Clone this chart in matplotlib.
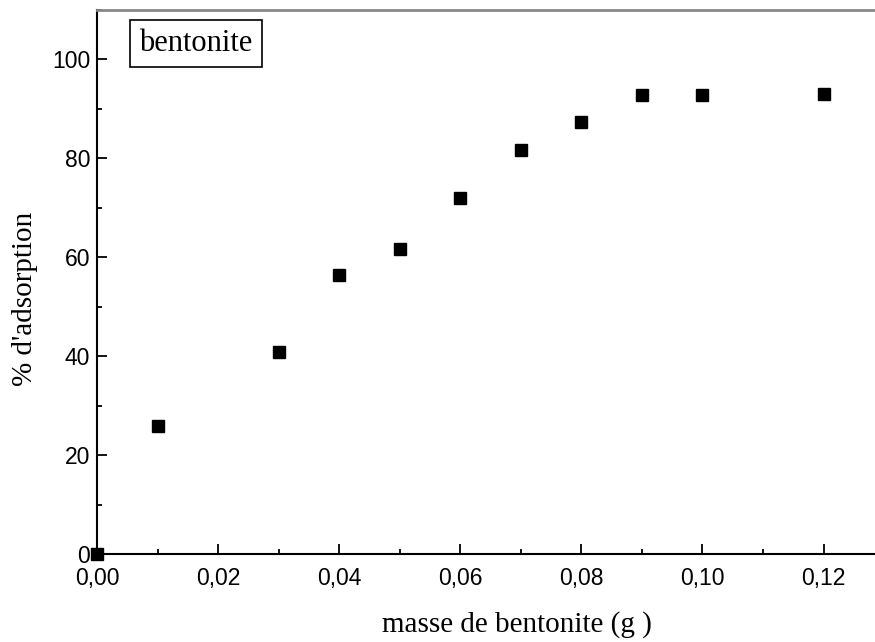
import matplotlib.pyplot as plt
from matplotlib.ticker import MultipleLocator, FuncFormatter

# masse de bentonite (g) vs % d'adsorption
masse = [0.00, 0.01, 0.03, 0.04, 0.05, 0.06, 0.07, 0.08, 0.09, 0.10, 0.12]
adsorption = [0.0, 25.9, 40.8, 56.4, 61.7, 72.0, 81.7, 87.3, 92.9, 92.9, 93.1]

fig = plt.figure(figsize=(8.75, 6.42), dpi=100)
ax = fig.add_axes([97/875, 88/642, 1 - 97/875, (554 - 10)/642])

ax.plot(masse, adsorption, 's', color='black', markersize=9, clip_on=False, zorder=5)

ax.set_xlim(0, 0.1285)
ax.set_ylim(0, 110)

ax.xaxis.set_major_locator(MultipleLocator(0.02))
ax.xaxis.set_minor_locator(MultipleLocator(0.01))
ax.yaxis.set_major_locator(MultipleLocator(20))
ax.yaxis.set_minor_locator(MultipleLocator(10))
ax.xaxis.set_major_formatter(FuncFormatter(lambda v, p: f'{v:.2f}'.replace('.', ',')))
ax.yaxis.set_major_formatter(FuncFormatter(lambda v, p: f'{v:.0f}'))

ax.tick_params(which='both', direction='in', width=1.3, labelsize=16.5,
               top=False, right=False)
ax.tick_params(which='major', length=7)
ax.tick_params(which='minor', length=3.5)
ax.tick_params(axis='x', pad=9.5)
ax.tick_params(axis='y', pad=5)
for lbl in ax.get_xticklabels() + ax.get_yticklabels():
    lbl.set_fontfamily('Liberation Sans')

ax.spines['right'].set_visible(False)
ax.spines['top'].set_color('#888888')
ax.spines['top'].set_linewidth(2)
ax.spines['left'].set_linewidth(1.5)
ax.spines['bottom'].set_linewidth(1.5)

ax.set_xlabel('masse de bentonite (g )', fontfamily='Liberation Serif', fontsize=21)
ax.set_ylabel("% d'adsorption", fontfamily='Liberation Serif', fontsize=21)
ax.xaxis.set_label_coords(0.54, -0.105)
ax.yaxis.set_label_coords(-0.076, 0.469)

ax.text(0.127, 0.939, 'bentonite', transform=ax.transAxes, fontfamily='Liberation Serif',
        fontsize=22, va='center', ha='center',
        bbox=dict(boxstyle='square,pad=0.3', facecolor='white', edgecolor='black', linewidth=1.2))

fig.savefig('out.png', dpi=100)
